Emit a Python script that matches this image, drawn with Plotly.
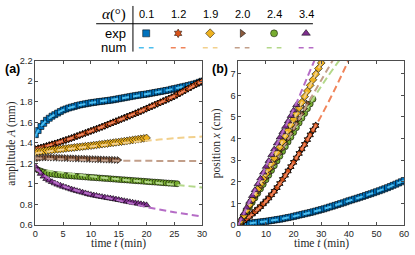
import plotly.graph_objects as go

# ---------------- data ----------------
ALPHA_LABELS = ["0.1", "1.2", "1.9", "2.0", "2.4", "3.4"]
EXP_COLORS = ["#0072BD", "#D95319", "#EDB120", "#8B5A3C", "#77AC30", "#7E2F8E"]
NUM_COLORS = ["#4DBEEE", "#F0845A", "#F2D08C", "#C29F8A", "#B3D88A", "#B56CC6"]
SYMBOLS = ["square", "hexagram", "diamond", "triangle-right", "circle", "triangle-up"]

# sampling times (min)
T_A = [0, 0.5, 1, 1.5, 2, 2.5, 3, 3.5, 4, 4.5, 5, 5.5, 6, 6.5, 7, 7.5, 8, 8.5, 9, 9.5,
       10, 10.5, 11, 11.5, 12, 12.5, 13, 13.5, 14, 14.5, 15, 15.5, 16, 16.5, 17, 17.5,
       18, 18.5, 19, 19.5, 20, 20.5, 21, 21.5, 22, 22.5, 23, 23.5, 24, 24.5, 25, 25.5,
       26, 26.5, 27, 27.5, 28, 28.5, 29, 29.5, 30]
T_B = [0, 1, 2, 3, 4, 5, 6, 7, 8, 9, 10, 11, 12, 13, 14, 15, 16, 17, 18, 19, 20,
       21, 22, 23, 24, 25, 26, 27, 28, 29, 30, 31, 32, 33, 34, 35, 36, 37, 38, 39, 40,
       41, 42, 43, 44, 45, 46, 47, 48, 49, 50, 51, 52, 53, 54, 55, 56, 57, 58, 59, 60]

# panel (a): amplitude A (mm), experiments
A_EXP_01 = [1.48, 1.52, 1.56, 1.59, 1.62, 1.64, 1.66, 1.675, 1.69, 1.705,
            1.72, 1.73, 1.74, 1.748, 1.755, 1.763, 1.77, 1.775, 1.78, 1.785,
            1.79, 1.794, 1.798, 1.802, 1.805, 1.809, 1.812, 1.816, 1.82, 1.825,
            1.83, 1.835, 1.84, 1.845, 1.85, 1.855, 1.86, 1.864, 1.868, 1.872,
            1.875, 1.88, 1.885, 1.89, 1.895, 1.9, 1.905, 1.91, 1.915, 1.922,
            1.928, 1.934, 1.94, 1.946, 1.952, 1.958, 1.965, 1.972, 1.98, 1.99,
            2.0]
A_EXP_12 = [1.34, 1.347, 1.354, 1.361, 1.369, 1.377, 1.385, 1.393, 1.401, 1.41,
            1.419, 1.428, 1.437, 1.446, 1.456, 1.466, 1.476, 1.486, 1.496, 1.506,
            1.516, 1.526, 1.536, 1.546, 1.556, 1.567, 1.578, 1.589, 1.6, 1.61,
            1.621, 1.632, 1.643, 1.654, 1.665, 1.676, 1.687, 1.698, 1.71, 1.722,
            1.734, 1.746, 1.758, 1.77, 1.782, 1.794, 1.806, 1.818, 1.83, 1.842,
            1.855, 1.87, 1.885, 1.9, 1.915, 1.93, 1.945, 1.96, 1.975, 1.99,
            2.0]
A_EXP_19 = [1.31, 1.315, 1.318, 1.322, 1.325, 1.328, 1.331, 1.334, 1.337, 1.34,
            1.343, 1.346, 1.349, 1.352, 1.355, 1.358, 1.361, 1.364, 1.367, 1.37,
            1.373, 1.377, 1.38, 1.384, 1.387, 1.391, 1.394, 1.398, 1.401, 1.405,
            1.408, 1.412, 1.416, 1.42, 1.424, 1.428, 1.432, 1.436, 1.44, 1.444,
            1.448]
A_EXP_20 = [1.245, 1.25, 1.255, 1.257, 1.258, 1.258, 1.257, 1.256, 1.255, 1.254,
            1.253, 1.252, 1.251, 1.25, 1.249, 1.248, 1.247, 1.246, 1.245, 1.244,
            1.243, 1.242, 1.241, 1.24, 1.239, 1.238, 1.237, 1.236, 1.235, 1.234,
            1.233]
A_EXP_24 = [1.15, 1.135, 1.125, 1.115, 1.108, 1.102, 1.097, 1.093, 1.09, 1.087,
            1.084, 1.082, 1.08, 1.078, 1.076, 1.074, 1.072, 1.07, 1.068, 1.066,
            1.064, 1.062, 1.06, 1.058, 1.056, 1.054, 1.052, 1.05, 1.048, 1.046,
            1.044, 1.042, 1.04, 1.038, 1.036, 1.034, 1.032, 1.03, 1.028, 1.026,
            1.024, 1.022, 1.02, 1.018, 1.016, 1.014, 1.012, 1.01, 1.008, 1.006,
            1.004, 1.002]
A_EXP_34 = [1.17, 1.135, 1.10, 1.073, 1.05, 1.034, 1.02, 1.007, 0.995, 0.985,
            0.975, 0.966, 0.957, 0.948, 0.94, 0.932, 0.925, 0.917, 0.91, 0.902,
            0.895, 0.89, 0.885, 0.879, 0.874, 0.869, 0.864, 0.86, 0.855, 0.85,
            0.845, 0.84, 0.834, 0.829, 0.824, 0.819, 0.814, 0.809, 0.804, 0.799,
            0.794]

# panel (a): numerical curves
A_NUM_T_01 = [0, 1, 2, 3, 5, 7, 10, 15, 20, 25, 30]
A_NUM_01 = [1.47, 1.56, 1.62, 1.66, 1.72, 1.755, 1.79, 1.83, 1.875, 1.928, 2.0]
A_NUM_T_12 = [0, 5, 10, 15, 20, 25, 30]
A_NUM_12 = [1.335, 1.418, 1.515, 1.62, 1.733, 1.855, 2.0]
A_NUM_T_19 = [0, 5, 10, 15, 20, 25, 30]
A_NUM_19 = [1.30, 1.335, 1.365, 1.395, 1.42, 1.445, 1.462]
A_NUM_T_20 = [0, 5, 10, 15, 20, 25, 30]
A_NUM_20 = [1.25, 1.24, 1.232, 1.227, 1.225, 1.224, 1.223]
A_NUM_T_24 = [2, 5, 10, 15, 20, 25, 30]
A_NUM_24 = [1.13, 1.11, 1.075, 1.045, 1.02, 0.993, 0.965]
A_NUM_T_34 = [0, 2.5, 5, 10, 15, 20, 25, 30]
A_NUM_34 = [1.15, 1.05, 0.98, 0.9, 0.84, 0.775, 0.725, 0.683]

# panel (b): position x (cm), experiments
B_EXP_01 = [0, 0.03, 0.05, 0.065, 0.08, 0.095, 0.11, 0.125, 0.14, 0.155,
            0.17, 0.19, 0.21, 0.23, 0.25, 0.27, 0.295, 0.32, 0.345, 0.37,
            0.4, 0.43, 0.46, 0.49, 0.52, 0.55, 0.58, 0.61, 0.645, 0.68,
            0.715, 0.75, 0.79, 0.83, 0.87, 0.91, 0.95, 0.99, 1.03, 1.075,
            1.12, 1.16, 1.2, 1.24, 1.28, 1.32, 1.365, 1.41, 1.45, 1.495,
            1.54, 1.585, 1.63, 1.68, 1.73, 1.78, 1.835, 1.89, 1.945, 2.0,
            2.06]
B_EXP_12 = [0, 0.1, 0.2, 0.3, 0.4, 0.51, 0.62, 0.73, 0.85, 0.98, 1.11, 1.25, 1.4,
            1.56, 1.73, 1.92, 2.11, 2.3, 2.5, 2.7, 2.9, 3.1, 3.31, 3.52, 3.73,
            3.95, 4.17, 4.39, 4.6]
B_EXP_19 = [0, 0.22, 0.45, 0.69, 0.93, 1.17, 1.41, 1.65, 1.89, 2.13, 2.37, 2.61,
            2.86, 3.1, 3.35, 3.6, 3.86, 4.12, 4.38, 4.64, 4.9, 5.16, 5.42, 5.68,
            5.94, 6.2, 6.46, 6.72, 6.98, 7.24, 7.5]
B_EXP_20 = [0, 0.2, 0.42, 0.64, 0.86, 1.08, 1.3, 1.52, 1.74, 1.96, 2.18, 2.4, 2.62,
            2.85, 3.08, 3.31, 3.54, 3.77, 4.0, 4.23, 4.46, 4.69, 4.92, 5.15, 5.38,
            5.62]
B_EXP_24 = [0, 0.2, 0.41, 0.62, 0.83, 1.04, 1.25, 1.46, 1.67, 1.88, 2.09, 2.3, 2.52,
            2.74, 2.96, 3.18, 3.4, 3.62, 3.84, 4.06, 4.28, 4.5, 4.72, 4.94, 5.16,
            5.38, 5.6, 5.82]
B_EXP_34 = [0, 0.27, 0.54, 0.81, 1.08, 1.35, 1.62, 1.89, 2.16, 2.43, 2.7, 2.97,
            3.24, 3.51, 3.78, 4.05, 4.3, 4.55, 4.8, 5.05, 5.3, 5.55]

# panel (b): numerical curves
B_NUM_T_01 = [0, 5, 10, 20, 30, 40, 50, 60]
B_NUM_01 = [0, 0.095, 0.17, 0.4, 0.715, 1.12, 1.54, 2.06]
B_NUM_T_12 = [0, 5, 10, 15, 20, 25, 28, 30, 35, 40]
B_NUM_12 = [0, 0.5, 1.1, 1.9, 2.9, 3.95, 4.6, 5.05, 6.3, 7.65]
B_NUM_T_19 = [0, 10, 20, 30, 31]
B_NUM_19 = [0, 2.4, 4.9, 7.5, 7.75]
B_NUM_T_20 = [0, 10, 20, 25, 30, 35]
B_NUM_20 = [0, 2.2, 4.45, 5.6, 6.7, 7.8]
B_NUM_T_24 = [0, 10, 20, 27, 32, 37]
B_NUM_24 = [0, 2.1, 4.3, 5.82, 6.8, 7.7]
B_NUM_T_34 = [0, 10, 20, 25, 28]
B_NUM_34 = [0, 2.7, 5.35, 6.85, 7.75]

A_EXP = [A_EXP_01, A_EXP_12, A_EXP_19, A_EXP_20, A_EXP_24, A_EXP_34]
A_NUM = [(A_NUM_T_01, A_NUM_01), (A_NUM_T_12, A_NUM_12), (A_NUM_T_19, A_NUM_19),
         (A_NUM_T_20, A_NUM_20), (A_NUM_T_24, A_NUM_24), (A_NUM_T_34, A_NUM_34)]
B_EXP = [B_EXP_01, B_EXP_12, B_EXP_19, B_EXP_20, B_EXP_24, B_EXP_34]
B_NUM = [(B_NUM_T_01, B_NUM_01), (B_NUM_T_12, B_NUM_12), (B_NUM_T_19, B_NUM_19),
         (B_NUM_T_20, B_NUM_20), (B_NUM_T_24, B_NUM_24), (B_NUM_T_34, B_NUM_34)]

# ---------------- figure ----------------
W, H = 415, 255
SANS = "Liberation Sans, Arial, sans-serif"
SERIF = "Liberation Serif, Times New Roman, serif"
TICK_COLOR = "#262626"
LINE_COLOR = "#4d4d4d"
MS = [6, 5.5, 6, 6, 6, 6.5]
EDGE_W = [0.6, 0.9, 0.6, 0.6, 0.6, 0.6]


def px(x):
    return x / W


def py(y):
    return (H - y) / H


fig = go.Figure()


def add_panel(times, exp_list, num_list, xa, ya, order):
    for i in order:
        vals = exp_list[i]
        fig.add_trace(go.Scatter(
            x=times[:len(vals)], y=vals, mode="markers", xaxis=xa, yaxis=ya,
            marker=dict(symbol=SYMBOLS[i], size=MS[i], color=EXP_COLORS[i],
                        line=dict(color="black", width=EDGE_W[i])),
            showlegend=False, hoverinfo="skip"))
        nt, nv = num_list[i]
        fig.add_trace(go.Scatter(
            x=nt, y=nv, mode="lines", xaxis=xa, yaxis=ya,
            line=dict(color=NUM_COLORS[i], width=2, dash="7px,4px", shape="spline"),
            showlegend=False, hoverinfo="skip"))


add_panel(T_A, A_EXP, A_NUM, "x", "y", [0, 1, 2, 3, 4, 5])
add_panel(T_B, B_EXP, B_NUM, "x2", "y2", [0, 1, 4, 3, 2, 5])

# legend table (overlay axes x3/y3: column index, row index)
for i in range(len(ALPHA_LABELS)):
    fig.add_trace(go.Scatter(
        x=[i], y=[1], mode="markers", xaxis="x3", yaxis="y3",
        marker=dict(symbol=SYMBOLS[i], size=MS[i] + 1, color=EXP_COLORS[i],
                    line=dict(color="black", width=0.5)),
        showlegend=False, hoverinfo="skip"))
    fig.add_trace(go.Scatter(
        x=[i - 0.23, i + 0.23], y=[0, 0], mode="lines", xaxis="x3", yaxis="y3",
        line=dict(color=NUM_COLORS[i], width=1.5, dash="5px,5px"),
        showlegend=False, hoverinfo="skip"))

common_axis = dict(
    showline=True, linecolor=LINE_COLOR, linewidth=1, mirror="ticks",
    ticks="inside", ticklen=3, tickcolor=LINE_COLOR, tickwidth=1,
    showgrid=False, zeroline=False,
    tickfont=dict(family=SANS, size=9.2, color=TICK_COLOR),
)

dom_y = [py(229), py(58)]
fig.update_layout(
    width=W, height=H, autosize=False,
    margin=dict(l=0, r=0, t=0, b=0),
    paper_bgcolor="white", plot_bgcolor="white",
    showlegend=False,
    xaxis=dict(domain=[px(33), px(203)], range=[0, 30], anchor="y",
               tickvals=[0, 5, 10, 15, 20, 25, 30], **common_axis),
    yaxis=dict(domain=dom_y, range=[0.6, 2.2], anchor="x",
               tickvals=[0.6, 0.8, 1.0, 1.2, 1.4, 1.6, 1.8, 2.0, 2.2],
               ticktext=["0.6", "0.8", "1", "1.2", "1.4", "1.6", "1.8", "2", "2.2"],
               **common_axis),
    xaxis2=dict(domain=[px(240), px(409)], range=[0, 60], anchor="y2",
                tickvals=[0, 10, 20, 30, 40, 50, 60], **common_axis),
    yaxis2=dict(domain=dom_y, range=[0, 7.6], anchor="x2",
                tickvals=[0, 1, 2, 3, 4, 5, 6, 7], **common_axis),
    xaxis3=dict(domain=[px(129.7), px(325.3)], range=[-0.5, 5.5], anchor="y3",
                visible=False, fixedrange=True),
    yaxis3=dict(domain=[py(52), py(22)], range=[-0.5, 1.5], anchor="x3",
                visible=False, fixedrange=True),
)

ann = []
TITLE_FONT = dict(family=SERIF, size=11.5, color=TICK_COLOR)
# axis titles
ann.append(dict(text="time <i>t</i> (min)", x=px(118), y=py(248.3), xref="paper", yref="paper",
                showarrow=False, xanchor="center", yanchor="middle", font=TITLE_FONT))
ann.append(dict(text="time <i>t</i> (min)", x=px(324.5), y=py(248.3), xref="paper", yref="paper",
                showarrow=False, xanchor="center", yanchor="middle", font=TITLE_FONT))
ann.append(dict(text="amplitude <i>A</i> (mm)", x=px(9), y=py(143.5), xref="paper", yref="paper",
                showarrow=False, xanchor="center", yanchor="middle", textangle=-90,
                font=TITLE_FONT))
ann.append(dict(text="position <i>x</i> (cm)", x=px(218.5), y=py(143.5), xref="paper", yref="paper",
                showarrow=False, xanchor="center", yanchor="middle", textangle=-90,
                font=TITLE_FONT))
# panel labels
ann.append(dict(text="<b>(a)</b>", x=px(0.5), y=py(67), xref="paper", yref="paper",
                showarrow=False, xanchor="left", yanchor="middle",
                font=dict(family=SANS, size=12.5, color="black")))
ann.append(dict(text="<b>(b)</b>", x=px(211), y=py(67), xref="paper", yref="paper",
                showarrow=False, xanchor="left", yanchor="middle",
                font=dict(family=SANS, size=12.5, color="black")))
# legend table texts
ann.append(dict(text="<i>α</i>(°)", x=px(113), y=py(9.5), xref="paper", yref="paper",
                showarrow=False, xanchor="center", yanchor="middle",
                font=dict(family=SERIF, size=15, color="black")))
for i, lab in enumerate(ALPHA_LABELS):
    ann.append(dict(text=lab, x=i, y=py(9.5), xref="x3", yref="paper",
                    showarrow=False, xanchor="center", yanchor="middle",
                    font=dict(family=SANS, size=11, color="black")))
ann.append(dict(text="exp", x=px(127), y=1, xref="paper", yref="y3",
                showarrow=False, xanchor="right", yanchor="middle",
                font=dict(family=SANS, size=13, color="black")))
ann.append(dict(text="num", x=px(127), y=0, xref="paper", yref="y3",
                showarrow=False, xanchor="right", yanchor="middle",
                font=dict(family=SANS, size=13, color="black")))
fig.update_layout(annotations=ann)

fig.update_layout(shapes=[
    dict(type="line", xref="paper", yref="paper", x0=px(95), x1=px(316),
         y0=py(19.5), y1=py(19.5), line=dict(color="black", width=1)),
    dict(type="line", xref="paper", yref="paper", x0=px(132.5), x1=px(132.5),
         y0=py(1), y1=py(48.5), line=dict(color="black", width=1)),
])

fig.write_html("out.html", config={"displayModeBar": False},
               post_script="document.body.style.margin='0';document.body.style.padding='0';")
